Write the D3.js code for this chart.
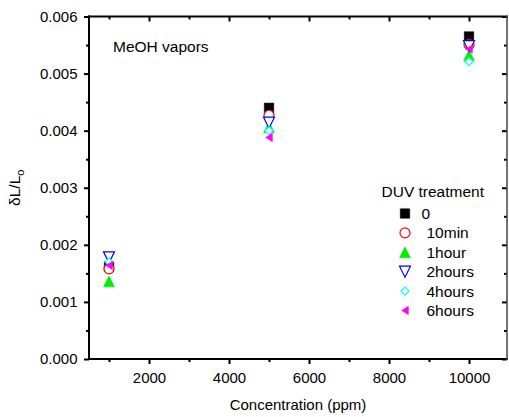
<!DOCTYPE html>
<html><head><meta charset="utf-8">
<script src="https://cdn.jsdelivr.net/npm/d3@7"></script>
<style>body{margin:0;background:#fff}svg{display:block}text{font-family:"Liberation Sans",Arial,sans-serif;fill:#000}</style>
</head><body><svg id="c" width="509" height="417"></svg>
<script>
const concentrations = [1000, 5000, 10000];
const seriesNames = ["0", "10min", "1hour", "2hours", "4hours", "6hours"];
const val0      = [0.00162, 0.00440, 0.00565];
const val10min  = [0.00158, 0.00427, 0.00551];
const val1hour  = [0.00136, 0.00406, 0.00532];
const val2hours = [0.00178, 0.00414, 0.00548];
const val4hours = [0.00170, 0.00400, 0.00521];
const val6hours = [0.00164, 0.00388, 0.00543];
const xTicks = [2000, 4000, 6000, 8000, 10000];
const yTicks = [0, 0.001, 0.002, 0.003, 0.004, 0.005, 0.006];

const seriesValues = [val0, val10min, val1hour, val2hours, val4hours, val6hours];
const styles = [
  {shape: "square", color: "#000000", filled: true, size: 9.5},
  {shape: "circle", color: "#ff0000", filled: false, size: 10},
  {shape: "up", color: "#00ee00", filled: true, size: 11},
  {shape: "down", color: "#0000ff", filled: false, size: 11},
  {shape: "diamond", color: "#00ffff", filled: false, size: 8},
  {shape: "left", color: "#ff00ff", filled: true, size: 8.5}
];

const svg = d3.select("#c");
const L = 89, R = 507, T = 16.5, B = 359;
const x = d3.scaleLinear().domain([500, 10950]).range([L, R]);
const y = d3.scaleLinear().domain([0, 0.006]).range([B, T]);

function shapePath(shape, s) {
  const h = s / 2;
  switch (shape) {
    case "square": return `M${-h},${-h}H${h}V${h}H${-h}Z`;
    case "circle": return `M${h},0A${h},${h} 0 1,1 ${-h},0A${h},${h} 0 1,1 ${h},0Z`;
    case "up": return `M0,${-h}L${h},${h}L${-h},${h}Z`;
    case "down": return `M0,${h}L${h},${-h}L${-h},${-h}Z`;
    case "diamond": return `M0,${-h}L${h},0L0,${h}L${-h},0Z`;
    case "left": return `M${-h*0.8},0L${h*0.8},${-h}L${h*0.8},${h}Z`;
  }
}
function drawMarker(g, st, cx, cy) {
  g.append("path").attr("d", shapePath(st.shape, st.size))
    .attr("transform", `translate(${cx},${cy})`)
    .attr("fill", st.filled ? st.color : "#fff")
    .attr("stroke", st.color).attr("stroke-width", st.filled ? 0.5 : 1.2);
}

// axes
const xMinor = d3.range(1000, 11000, 2000);
const yMinor = d3.range(0.0005, 0.006, 0.001);
const ax = svg.append("g");
// bottom
const bottom = d3.axisBottom(x).tickValues(xTicks).tickFormat(d3.format("d")).tickSize(5).tickSizeOuter(0).tickPadding(8);
const gb = ax.append("g").attr("transform", `translate(0,${B})`).call(bottom);
gb.selectAll(".tick line").attr("stroke-width", 2);
gb.selectAll("text").style("font-size", "15px");
gb.select(".domain").remove();
ax.append("g").attr("transform", `translate(0,${B})`).call(d3.axisBottom(x).tickValues(xMinor).tickSize(3).tickFormat("").tickSizeOuter(0))
  .call(g => { g.select(".domain").remove(); g.selectAll(".tick line").attr("stroke-width", 2); });
// left
const left = d3.axisLeft(y).tickValues(yTicks).tickFormat(d3.format(".3f")).tickSize(5).tickSizeOuter(0).tickPadding(6.5);
const gl = ax.append("g").attr("transform", `translate(${L},0)`).call(left);
gl.selectAll(".tick line").attr("stroke-width", 2);
gl.selectAll("text").style("font-size", "15px");
gl.select(".domain").remove();
ax.append("g").attr("transform", `translate(${L},0)`).call(d3.axisLeft(y).tickValues(yMinor).tickSize(3).tickFormat("").tickSizeOuter(0))
  .call(g => { g.select(".domain").remove(); g.selectAll(".tick line").attr("stroke-width", 2); });
// top (inward)
ax.append("g").attr("transform", `translate(0,${T})`).call(d3.axisBottom(x).tickValues(xTicks).tickSize(5).tickFormat("").tickSizeOuter(0))
  .call(g => { g.select(".domain").remove(); g.selectAll(".tick line").attr("stroke-width", 2); });
ax.append("g").attr("transform", `translate(0,${T})`).call(d3.axisBottom(x).tickValues(xMinor).tickSize(3).tickFormat("").tickSizeOuter(0))
  .call(g => { g.select(".domain").remove(); g.selectAll(".tick line").attr("stroke-width", 2); });
// right (inward)
ax.append("g").attr("transform", `translate(${R},0)`).call(d3.axisLeft(y).tickValues(yTicks).tickSize(5).tickFormat("").tickSizeOuter(0))
  .call(g => { g.select(".domain").remove(); g.selectAll(".tick line").attr("stroke-width", 2); });
ax.append("g").attr("transform", `translate(${R},0)`).call(d3.axisLeft(y).tickValues(yMinor).tickSize(3).tickFormat("").tickSizeOuter(0))
  .call(g => { g.select(".domain").remove(); g.selectAll(".tick line").attr("stroke-width", 2); });
// frame lines
ax.append("line").attr("x1", L).attr("x2", L).attr("y1", T - 1).attr("y2", B + 1).attr("stroke", "#000").attr("stroke-width", 2);
ax.append("line").attr("x1", L - 1).attr("x2", R + 1).attr("y1", B).attr("y2", B).attr("stroke", "#000").attr("stroke-width", 2);
ax.append("line").attr("x1", L - 1).attr("x2", R + 1).attr("y1", T).attr("y2", T).attr("stroke", "#000").attr("stroke-width", 2);
ax.append("line").attr("x1", R).attr("x2", R).attr("y1", T - 1).attr("y2", B + 1).attr("stroke", "#444").attr("stroke-width", 1.5);

// data points
const pts = svg.append("g");
seriesValues.forEach((vals, i) => {
  vals.forEach((v, j) => drawMarker(pts, styles[i], x(concentrations[j]), y(v)));
});

// labels
svg.append("text").attr("x", (L + R) / 2).attr("y", 410).attr("text-anchor", "middle")
  .style("font-size", "15px").text("Concentration (ppm)");
const yl = svg.append("text").attr("transform", `translate(20,${(T + B) / 2}) rotate(-90)`)
  .attr("text-anchor", "middle").style("font-size", "15.5px");
yl.append("tspan").text("δL/L");
yl.append("tspan").attr("dy", 4).style("font-size", "11px").text("o");
svg.append("text").attr("x", 113).attr("y", 52).style("font-size", "15.5px").text("MeOH vapors");

// legend
const lg = svg.append("g");
lg.append("text").attr("x", 381.5).attr("y", 197).style("font-size", "15.5px").text("DUV treatment");
seriesNames.forEach((name, i) => {
  const ry = 213.5 + i * 19.4;
  drawMarker(lg, styles[i], 405, ry);
  lg.append("text").attr("x", i === 0 ? 421.5 : 426.5).attr("y", ry + 5.5)
    .style("font-size", "15.5px").text(name);
});
</script></body></html>
